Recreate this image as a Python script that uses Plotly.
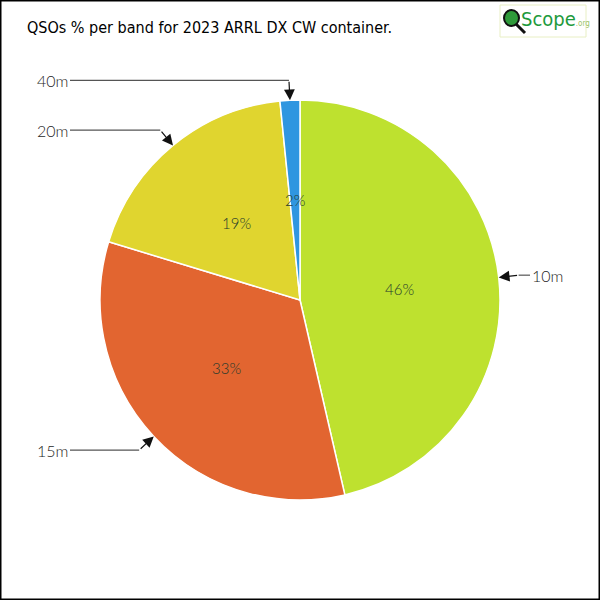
import math
import plotly.graph_objects as go

# ---- data ----
bands = ["10m", "15m", "20m", "40m"]
shares = [46.4, 33.3, 18.7, 1.6]
pct_labels = ["46%", "33%", "19%", "2%"]
colors = ["#bee12f", "#e26530", "#e0d52f", "#2f96e0"]

W = H = 600
CX, CY, R = 300, 300, 200


def px_to_paper(x, y):
    return x / W, 1 - y / H


fig = go.Figure()
fig.add_trace(go.Pie(
    labels=bands, values=shares, sort=False, direction="clockwise", rotation=0,
    marker=dict(colors=colors, line=dict(color="white", width=1.5)),
    textinfo="none", hoverinfo="label+percent", showlegend=False,
    domain=dict(x=[(CX - R) / W, (CX + R) / W], y=[1 - (CY + R) / H, 1 - (CY - R) / H]),
))

annotations = []
shapes = []
total = sum(shares)
cum = 0.0
label_font = dict(family="Lato, Open Sans, sans-serif", size=16, color="#1e1e1e", weight=300)
for band, v, pl in zip(bands, shares, pct_labels):
    mid = (cum + v / 2) / total * 2 * math.pi
    cum += v
    sx, sy = math.sin(mid), -math.cos(mid)
    # percent label at half radius
    px, py = CX + 0.5 * R * sx, CY + 0.5 * R * sy
    x, y = px_to_paper(px, py)
    annotations.append(dict(x=x, y=y, xref="paper", yref="paper", text=pl, showarrow=False,
                            xanchor="center", yanchor="middle",
                            font=dict(family="Lato, Open Sans, sans-serif", size=15, color="#253a2c", weight=300)))
    # connector
    tx, ty = CX + R * sx, CY + R * sy
    ex, ey = tx + 20 * sx, ty + 20 * sy
    right = sx > 0
    lx = 530 if right else 70
    x, y = px_to_paper(tx, ty)
    annotations.append(dict(x=x, y=y, xref="paper", yref="paper", text="", showarrow=True,
                            ax=ex - tx, ay=ey - ty, arrowhead=2, arrowsize=1.8, arrowwidth=1.2,
                            arrowcolor="#111111", standoff=0))
    x0, y0 = px_to_paper(ex, ey)
    x1, y1 = px_to_paper(lx, ey)
    shapes.append(dict(type="line", xref="paper", yref="paper", x0=x0, y0=y0, x1=x1, y1=y1,
                       line=dict(color="#555555", width=1.2)))
    annotations.append(dict(x=x1, y=y1, xref="paper", yref="paper", text=band, showarrow=False,
                            xanchor="left" if right else "right", yanchor="middle", font=label_font))

# title
annotations.append(dict(x=25 / W, y=1 - 27 / H, xref="paper", yref="paper", xanchor="left", yanchor="middle",
                        text="QSOs % per band for 2023 ARRL DX CW container.", showarrow=False,
                        font=dict(family="DejaVu Sans Condensed, sans-serif", size=16, color="#000000")))
# logo
shapes.append(dict(type="rect", xref="paper", yref="paper", x0=500 / W, y0=1 - 37 / H, x1=586 / W, y1=1 - 5 / H,
                   line=dict(color="#e8efc4", width=1), fillcolor="white", layer="below"))
shapes.append(dict(type="line", xref="paper", yref="paper", x0=515 / W, y0=1 - 23 / H, x1=525 / W, y1=1 - 33 / H,
                   line=dict(color="#111111", width=3)))
shapes.append(dict(type="circle", xref="paper", yref="paper", x0=504 / W, y0=1 - 26 / H, x1=519 / W, y1=1 - 10 / H,
                   line=dict(color="#111111", width=2), fillcolor="#2f9a3a"))
annotations.append(dict(x=519 / W, y=1 - 19 / H, xref="paper", yref="paper", xanchor="left", yanchor="middle",
                        showarrow=False,
                        text="Scope<span style='font-size:8px;color:#9cc46a'>.org</span>",
                        font=dict(family="DejaVu Sans Condensed, sans-serif", size=20, color="#1e9a3c")))
# frame
shapes.append(dict(type="rect", xref="paper", yref="paper", x0=0.5 / W, y0=0.5 / H, x1=1 - 0.5 / W, y1=1 - 0.5 / H,
                   line=dict(color="#000000", width=2)))

fig.update_layout(width=W, height=H, margin=dict(l=0, r=0, t=0, b=0),
                  paper_bgcolor="white", plot_bgcolor="white",
                  annotations=annotations, shapes=shapes)
fig.write_html("out.html", config={"displayModeBar": False},
               post_script="document.body.style.margin='0';")
